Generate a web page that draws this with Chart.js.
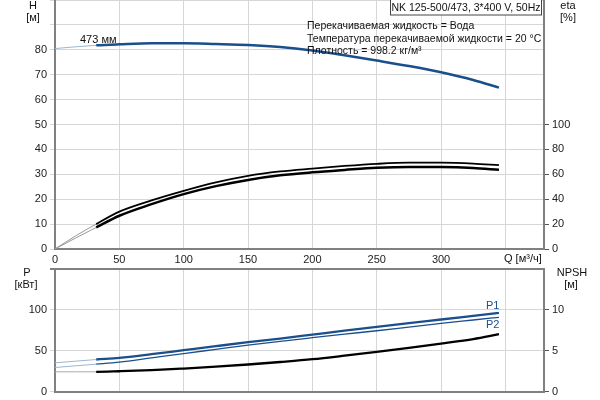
<!DOCTYPE html>
<html>
<head>
<meta charset="utf-8">
<script src="https://cdn.jsdelivr.net/npm/chart.js@4/dist/chart.umd.min.js"></script>
<style>
  html, body { margin: 0; padding: 0; background: #fff; }
  #wrap { position: relative; width: 600px; height: 400px; overflow: hidden; }
  #top { position: absolute; left: 0; top: 0; }
  #bottom { position: absolute; left: 0; top: 262px; }
</style>
</head>
<body>
<div id="wrap">
  <canvas id="top" width="600" height="270"></canvas>
  <canvas id="bottom" width="600" height="138"></canvas>
</div>
<script>
// flow points, m3/h
const flow = [0, 16, 32, 50, 75, 100, 125, 150, 175, 200, 225, 250, 275, 300, 325, 345];
// head, m
const head = [80.5, 81.2, 81.8, 82.2, 82.6, 82.6, 82.3, 81.9, 81.1, 79.7, 77.8, 75.7, 73.5, 71.0, 67.9, 64.8];
// efficiency, %
const etaPump = [0, 10.5, 20, 30, 39, 46.7, 53.5, 58.8, 62.3, 64.6, 66.7, 68.4, 69.3, 69.3, 68.6, 67.3];
const etaTotal = [0, 8.8, 17.3, 26.7, 36, 44.1, 50.5, 55.5, 59.2, 61.6, 63.5, 65.2, 65.9, 65.8, 65.0, 63.6];
// power, kW
const powerP1 = [34.9, 37, 39, 41, 45.5, 50.4, 55.3, 60.1, 64.6, 69.4, 74.2, 78.8, 83.4, 87.8, 92.3, 95.9];
const powerP2 = [29.3, 31.3, 33.3, 35.7, 41, 46.3, 51.4, 56.5, 61.2, 65.6, 69.9, 74.1, 78.6, 83.1, 87.2, 90.5];
// NPSH, m
const npsh = [2.4, 2.4, 2.4, 2.47, 2.6, 2.8, 3.03, 3.29, 3.6, 3.94, 4.37, 4.83, 5.33, 5.85, 6.4, 6.99];

const qTicks = [0, 50, 100, 150, 200, 250, 300, 350];
const hTickLabels = [0, 10, 20, 30, 40, 50, 60, 70, 80];
const etaTickLabels = [0, 20, 40, 60, 80, 100];
const pTickLabels = [0, 50, 100];
const npshTickLabels = [0, 5, 10];

const thinUntil = 32;
const FONT = "'Liberation Sans', Arial, sans-serif";
const BLUE = '#1b4f8c';

Chart.defaults.font.family = FONT;
Chart.defaults.font.size = 11;
Chart.defaults.color = '#222';

function pts(values) {
  return flow.map((q, i) => ({ x: q, y: values[i] }));
}

function curve(values, axis, color, width, thinColor, thinWidth) {
  return {
    data: pts(values),
    yAxisID: axis,
    borderColor: color,
    borderWidth: width,
    pointRadius: 0,
    fill: false,
    cubicInterpolationMode: 'monotone',
    segment: {
      borderColor: ctx => ctx.p0.parsed.x < thinUntil ? thinColor : undefined,
      borderWidth: ctx => ctx.p0.parsed.x < thinUntil ? thinWidth : undefined
    }
  };
}

// fix axis size and drop the extra room chart.js keeps for edge labels
function fixedWidth(w) {
  return scale => {
    scale.width = w;
    scale.paddingTop = 0;
    scale.paddingBottom = 0;
  };
}
function fixedHeight(h) {
  return scale => {
    scale.height = h;
    scale.paddingLeft = 0;
    scale.paddingRight = 0;
  };
}

const GRID = '#d6d6d6';
const AXIS = '#808080';

// text drawn on the upper chart
const topText = {
  id: 'topText',
  afterDraw(chart) {
    const c = chart.ctx;
    c.save();
    c.font = '11px ' + FONT;
    c.fillStyle = '#111';
    c.textBaseline = 'middle';
    c.textAlign = 'center';
    c.fillText('H', 33, 6);
    c.fillText('[м]', 33, 18);
    c.fillText('eta', 568, 6);
    c.fillText('[%]', 568, 18);

    // model box
    c.font = '10.5px ' + FONT;
    c.fillStyle = '#fff';
    c.fillRect(390, 0, 152, 15);
    c.strokeStyle = '#444';
    c.lineWidth = 1;
    c.strokeRect(390.5, -0.5, 151, 15.5);
    c.fillStyle = '#111';
    c.fillText('NK 125-500/473, 3*400 V, 50Hz', 466, 8);

    c.textAlign = 'left';
    c.fillText('Перекачиваемая жидкость = Вода', 307, 26);
    c.fillText('Температура перекачиваемой жидкости = 20 °C', 307, 39);
    c.fillText('Плотность = 998.2 кг/м³', 307, 51);
    c.font = '11px ' + FONT;
    c.fillText('473 мм', 80, 40);
    c.fillText('Q [м³/ч]', 504, 259);
    c.restore();
  }
};

const bottomText = {
  id: 'bottomText',
  afterDraw(chart) {
    const c = chart.ctx;
    c.save();
    c.font = '11px ' + FONT;
    c.fillStyle = '#111';
    c.textBaseline = 'middle';
    c.textAlign = 'center';
    c.fillText('P', 27, 11);
    c.fillText('[кВт]', 26, 23);
    c.fillText('NPSH', 572, 11);
    c.fillText('[м]', 571, 23);
    c.fillStyle = BLUE;
    c.textAlign = 'left';
    c.fillText('P1', 486, 44);
    c.fillText('P2', 486, 63);
    c.restore();
  }
};

new Chart(document.getElementById('top'), {
  type: 'line',
  data: {
    datasets: [
      curve(head, 'h', BLUE, 2.5, '#9fb4cf', 1),
      curve(etaPump, 'eta', '#000', 1.8, '#999', 1),
      curve(etaTotal, 'eta', '#000', 2.5, '#999', 1)
    ]
  },
  options: {
    responsive: false,
    animation: false,
    devicePixelRatio: 1,
    layout: { padding: 0 },
    plugins: { legend: { display: false }, tooltip: { enabled: false } },
    scales: {
      x: {
        type: 'linear',
        min: 0, max: 380,
        afterBuildTicks: s => { s.ticks = qTicks.map(v => ({ value: v })); },
        afterFit: fixedHeight(21),
        grid: { color: GRID, drawTicks: false },
        border: { color: AXIS, width: 2 },
        ticks: {
          padding: 4,
          maxRotation: 0,
          autoSkip: false,
          callback: v => v === 350 ? '' : String(v)
        }
      },
      h: {
        type: 'linear',
        position: 'left',
        min: 0, max: 100,
        ticks: {
          stepSize: 10,
          padding: 3,
          callback: v => hTickLabels.includes(v) ? String(v) : ''
        },
        afterFit: fixedWidth(55),
        grid: { color: GRID, tickLength: 5 },
        border: { color: AXIS, width: 2 }
      },
      eta: {
        type: 'linear',
        position: 'right',
        min: 0, max: 200,
        ticks: {
          stepSize: 20,
          padding: 3,
          callback: v => etaTickLabels.includes(v) ? String(v) : null
        },
        afterFit: fixedWidth(56),
        grid: { drawOnChartArea: false, color: '#555', tickLength: 5 },
        border: { color: AXIS, width: 2 }
      }
    }
  },
  plugins: [topText]
});

new Chart(document.getElementById('bottom'), {
  type: 'line',
  data: {
    datasets: [
      curve(powerP1, 'p', BLUE, 2.3, '#9fb4cf', 1),
      curve(powerP2, 'p', BLUE, 1.3, '#9fb4cf', 1),
      curve(npsh, 'npsh', '#000', 2.3, '#aaa', 1)
    ]
  },
  options: {
    responsive: false,
    animation: false,
    devicePixelRatio: 1,
    layout: { padding: { top: 6.5, left: 0, right: 0, bottom: 0 } },
    plugins: { legend: { display: false }, tooltip: { enabled: false } },
    scales: {
      x: {
        type: 'linear',
        min: 0, max: 380,
        afterBuildTicks: s => { s.ticks = qTicks.map(v => ({ value: v })); },
        afterFit: fixedHeight(8.5),
        grid: { color: GRID, drawTicks: false },
        border: { color: AXIS, width: 2 },
        ticks: { display: false }
      },
      p: {
        type: 'linear',
        position: 'left',
        min: 0, max: 150,
        ticks: {
          stepSize: 50,
          padding: 3,
          callback: v => pTickLabels.includes(v) ? String(v) : ''
        },
        afterFit: fixedWidth(55),
        grid: {
          color: ctx => ctx.tick && ctx.tick.value === 150 ? AXIS : GRID,
          lineWidth: ctx => ctx.tick && ctx.tick.value === 150 ? 2 : 1,
          tickLength: 5
        },
        border: { color: AXIS, width: 2 }
      },
      npsh: {
        type: 'linear',
        position: 'right',
        min: 0, max: 15,
        ticks: {
          stepSize: 5,
          padding: 3,
          callback: v => npshTickLabels.includes(v) ? String(v) : null
        },
        afterFit: fixedWidth(56),
        grid: { drawOnChartArea: false, color: '#555', tickLength: 5 },
        border: { color: AXIS, width: 2 }
      }
    }
  },
  plugins: [bottomText]
});
</script>
</body>
</html>
